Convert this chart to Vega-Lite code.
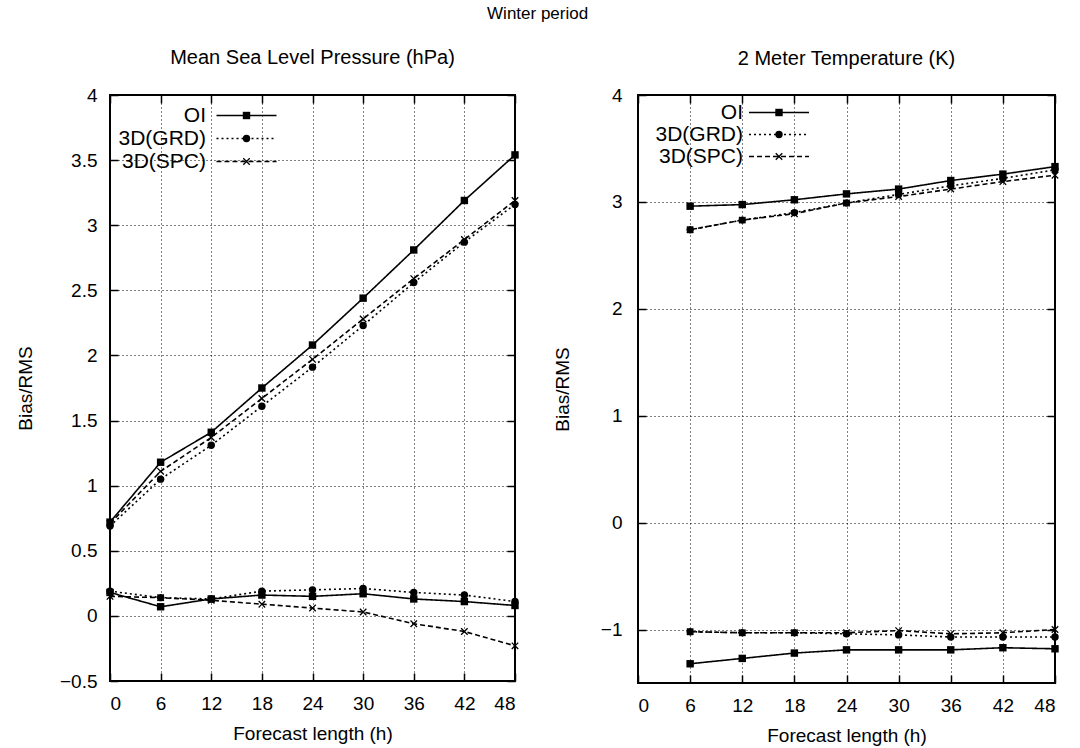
{
  "$schema": "https://vega.github.io/schema/vega-lite/v6.json",
  "background": "white",
  "padding": {"left": 15, "top": 5, "right": 5, "bottom": 5},
  "title": {"text": "Winter period", "fontSize": 17, "font": "Liberation Sans", "fontWeight": "normal", "color": "black", "anchor": "middle", "offset": 24},
  "datasets": {
    "msl": [
      {"series": "OI", "curve": "RMS", "h": 0, "v": 0.72},
      {"series": "OI", "curve": "RMS", "h": 6, "v": 1.18},
      {"series": "OI", "curve": "RMS", "h": 12, "v": 1.41},
      {"series": "OI", "curve": "RMS", "h": 18, "v": 1.75},
      {"series": "OI", "curve": "RMS", "h": 24, "v": 2.08},
      {"series": "OI", "curve": "RMS", "h": 30, "v": 2.44},
      {"series": "OI", "curve": "RMS", "h": 36, "v": 2.81},
      {"series": "OI", "curve": "RMS", "h": 42, "v": 3.19},
      {"series": "OI", "curve": "RMS", "h": 48, "v": 3.54},
      {"series": "3D(GRD)", "curve": "RMS", "h": 0, "v": 0.69},
      {"series": "3D(GRD)", "curve": "RMS", "h": 6, "v": 1.05},
      {"series": "3D(GRD)", "curve": "RMS", "h": 12, "v": 1.31},
      {"series": "3D(GRD)", "curve": "RMS", "h": 18, "v": 1.61},
      {"series": "3D(GRD)", "curve": "RMS", "h": 24, "v": 1.91},
      {"series": "3D(GRD)", "curve": "RMS", "h": 30, "v": 2.23},
      {"series": "3D(GRD)", "curve": "RMS", "h": 36, "v": 2.56},
      {"series": "3D(GRD)", "curve": "RMS", "h": 42, "v": 2.87},
      {"series": "3D(GRD)", "curve": "RMS", "h": 48, "v": 3.16},
      {"series": "3D(SPC)", "curve": "RMS", "h": 0, "v": 0.71},
      {"series": "3D(SPC)", "curve": "RMS", "h": 6, "v": 1.11},
      {"series": "3D(SPC)", "curve": "RMS", "h": 12, "v": 1.37},
      {"series": "3D(SPC)", "curve": "RMS", "h": 18, "v": 1.67},
      {"series": "3D(SPC)", "curve": "RMS", "h": 24, "v": 1.97},
      {"series": "3D(SPC)", "curve": "RMS", "h": 30, "v": 2.28},
      {"series": "3D(SPC)", "curve": "RMS", "h": 36, "v": 2.59},
      {"series": "3D(SPC)", "curve": "RMS", "h": 42, "v": 2.89},
      {"series": "3D(SPC)", "curve": "RMS", "h": 48, "v": 3.19},
      {"series": "OI", "curve": "Bias", "h": 0, "v": 0.18},
      {"series": "OI", "curve": "Bias", "h": 6, "v": 0.07},
      {"series": "OI", "curve": "Bias", "h": 12, "v": 0.13},
      {"series": "OI", "curve": "Bias", "h": 18, "v": 0.16},
      {"series": "OI", "curve": "Bias", "h": 24, "v": 0.15},
      {"series": "OI", "curve": "Bias", "h": 30, "v": 0.17},
      {"series": "OI", "curve": "Bias", "h": 36, "v": 0.13},
      {"series": "OI", "curve": "Bias", "h": 42, "v": 0.11},
      {"series": "OI", "curve": "Bias", "h": 48, "v": 0.08},
      {"series": "3D(GRD)", "curve": "Bias", "h": 0, "v": 0.19},
      {"series": "3D(GRD)", "curve": "Bias", "h": 6, "v": 0.14},
      {"series": "3D(GRD)", "curve": "Bias", "h": 12, "v": 0.13},
      {"series": "3D(GRD)", "curve": "Bias", "h": 18, "v": 0.19},
      {"series": "3D(GRD)", "curve": "Bias", "h": 24, "v": 0.2},
      {"series": "3D(GRD)", "curve": "Bias", "h": 30, "v": 0.21},
      {"series": "3D(GRD)", "curve": "Bias", "h": 36, "v": 0.18},
      {"series": "3D(GRD)", "curve": "Bias", "h": 42, "v": 0.16},
      {"series": "3D(GRD)", "curve": "Bias", "h": 48, "v": 0.11},
      {"series": "3D(SPC)", "curve": "Bias", "h": 0, "v": 0.15},
      {"series": "3D(SPC)", "curve": "Bias", "h": 6, "v": 0.14},
      {"series": "3D(SPC)", "curve": "Bias", "h": 12, "v": 0.12},
      {"series": "3D(SPC)", "curve": "Bias", "h": 18, "v": 0.09},
      {"series": "3D(SPC)", "curve": "Bias", "h": 24, "v": 0.06},
      {"series": "3D(SPC)", "curve": "Bias", "h": 30, "v": 0.03},
      {"series": "3D(SPC)", "curve": "Bias", "h": 36, "v": -0.06},
      {"series": "3D(SPC)", "curve": "Bias", "h": 42, "v": -0.12},
      {"series": "3D(SPC)", "curve": "Bias", "h": 48, "v": -0.23}
    ],
    "t2m": [
      {"series": "OI", "curve": "RMS", "h": 6, "v": 2.96},
      {"series": "OI", "curve": "RMS", "h": 12, "v": 2.975},
      {"series": "OI", "curve": "RMS", "h": 18, "v": 3.02},
      {"series": "OI", "curve": "RMS", "h": 24, "v": 3.075},
      {"series": "OI", "curve": "RMS", "h": 30, "v": 3.12},
      {"series": "OI", "curve": "RMS", "h": 36, "v": 3.2},
      {"series": "OI", "curve": "RMS", "h": 42, "v": 3.26},
      {"series": "OI", "curve": "RMS", "h": 48, "v": 3.33},
      {"series": "3D(GRD)", "curve": "RMS", "h": 6, "v": 2.74},
      {"series": "3D(GRD)", "curve": "RMS", "h": 12, "v": 2.83},
      {"series": "3D(GRD)", "curve": "RMS", "h": 18, "v": 2.9},
      {"series": "3D(GRD)", "curve": "RMS", "h": 24, "v": 2.99},
      {"series": "3D(GRD)", "curve": "RMS", "h": 30, "v": 3.07},
      {"series": "3D(GRD)", "curve": "RMS", "h": 36, "v": 3.15},
      {"series": "3D(GRD)", "curve": "RMS", "h": 42, "v": 3.22},
      {"series": "3D(GRD)", "curve": "RMS", "h": 48, "v": 3.3},
      {"series": "3D(SPC)", "curve": "RMS", "h": 6, "v": 2.74},
      {"series": "3D(SPC)", "curve": "RMS", "h": 12, "v": 2.83},
      {"series": "3D(SPC)", "curve": "RMS", "h": 18, "v": 2.89},
      {"series": "3D(SPC)", "curve": "RMS", "h": 24, "v": 2.99},
      {"series": "3D(SPC)", "curve": "RMS", "h": 30, "v": 3.05},
      {"series": "3D(SPC)", "curve": "RMS", "h": 36, "v": 3.12},
      {"series": "3D(SPC)", "curve": "RMS", "h": 42, "v": 3.19},
      {"series": "3D(SPC)", "curve": "RMS", "h": 48, "v": 3.25},
      {"series": "OI", "curve": "Bias", "h": 6, "v": -1.32},
      {"series": "OI", "curve": "Bias", "h": 12, "v": -1.27},
      {"series": "OI", "curve": "Bias", "h": 18, "v": -1.22},
      {"series": "OI", "curve": "Bias", "h": 24, "v": -1.19},
      {"series": "OI", "curve": "Bias", "h": 30, "v": -1.19},
      {"series": "OI", "curve": "Bias", "h": 36, "v": -1.19},
      {"series": "OI", "curve": "Bias", "h": 42, "v": -1.17},
      {"series": "OI", "curve": "Bias", "h": 48, "v": -1.18},
      {"series": "3D(GRD)", "curve": "Bias", "h": 6, "v": -1.02},
      {"series": "3D(GRD)", "curve": "Bias", "h": 12, "v": -1.03},
      {"series": "3D(GRD)", "curve": "Bias", "h": 18, "v": -1.03},
      {"series": "3D(GRD)", "curve": "Bias", "h": 24, "v": -1.04},
      {"series": "3D(GRD)", "curve": "Bias", "h": 30, "v": -1.05},
      {"series": "3D(GRD)", "curve": "Bias", "h": 36, "v": -1.07},
      {"series": "3D(GRD)", "curve": "Bias", "h": 42, "v": -1.07},
      {"series": "3D(GRD)", "curve": "Bias", "h": 48, "v": -1.07},
      {"series": "3D(SPC)", "curve": "Bias", "h": 6, "v": -1.02},
      {"series": "3D(SPC)", "curve": "Bias", "h": 12, "v": -1.03},
      {"series": "3D(SPC)", "curve": "Bias", "h": 18, "v": -1.03},
      {"series": "3D(SPC)", "curve": "Bias", "h": 24, "v": -1.03},
      {"series": "3D(SPC)", "curve": "Bias", "h": 30, "v": -1.01},
      {"series": "3D(SPC)", "curve": "Bias", "h": 36, "v": -1.04},
      {"series": "3D(SPC)", "curve": "Bias", "h": 42, "v": -1.03},
      {"series": "3D(SPC)", "curve": "Bias", "h": 48, "v": -1.0}
    ]
  },
  "resolve": {"scale": {"strokeDash": "independent", "shape": "independent"}, "legend": {"strokeDash": "independent", "shape": "independent"}},
  "spacing": 32,
  "hconcat": [
    {
      "width": 405,
      "height": 586,
      "title": {"text": "Mean Sea Level Pressure (hPa)", "fontSize": 20, "font": "Liberation Sans", "fontWeight": "normal", "color": "black", "anchor": "middle", "offset": 18},
      "data": {"name": "msl"},
      "resolve": {"axis": {"x": "independent", "y": "independent"}},
      "layer": [
        {
          "mark": {"type": "line", "color": "black", "strokeWidth": 1.6},
          "encoding": {
            "x": {"field": "h", "type": "quantitative", "scale": {"domain": [0, 48], "nice": false, "zero": false},
                  "axis": {"values": [0, 6, 12, 18, 24, 30, 36, 42, 48], "title": "Forecast length (h)"}},
            "y": {"field": "v", "type": "quantitative", "scale": {"domain": [-0.5, 4], "nice": false, "zero": false},
                  "axis": {"values": [-0.5, 0, 0.5, 1, 1.5, 2, 2.5, 3, 3.5, 4], "format": "~g", "title": "Bias/RMS", "labelPadding": 21, "titlePadding": 24}},
            "strokeDash": {"field": "series", "type": "nominal", "sort": ["OI", "3D(GRD)", "3D(SPC)"],
                           "scale": {"range": [[1, 0], [2, 3], [5, 3]]},
                           "legend": {"orient": "none", "legendX": 126, "legendY": 10, "title": null, "symbolType": "M-20,0L20,0", "symbolSize": 9, "symbolStrokeWidth": 1.6, "symbolStrokeColor": "black", "labelAlign": "right", "labelOffset": -51, "labelFontSize": 21, "labelFont": "Liberation Sans", "labelColor": "black", "padding": 0, "rowPadding": 1}},
            "detail": {"field": "curve"}
          }
        },
        {
          "mark": {"type": "point", "filled": true, "color": "black", "size": 55, "opacity": 1},
          "encoding": {
            "x": {"field": "h", "type": "quantitative", "axis": {"orient": "top", "values": [0, 6, 12, 18, 24, 30, 36, 42, 48], "labels": false, "grid": false, "title": null}},
            "y": {"field": "v", "type": "quantitative", "axis": {"orient": "right", "values": [-0.5, 0, 0.5, 1, 1.5, 2, 2.5, 3, 3.5, 4], "labels": false, "grid": false, "title": null}},
            "shape": {"field": "series", "type": "nominal",
                      "scale": {"domain": ["OI", "3D(GRD)", "3D(SPC)"], "range": ["square", "circle", "M-1,-0.75L-0.75,-1L0,-0.25L0.75,-1L1,-0.75L0.25,0L1,0.75L0.75,1L0,0.25L-0.75,1L-1,0.75L-0.25,0Z"]},
                      "legend": {"orient": "none", "legendX": 126, "legendY": 10, "title": null, "symbolSize": 55, "symbolFillColor": "black", "labelOpacity": 0, "labelFontSize": 21, "padding": 0, "rowPadding": 1}}
          }
        }
      ]
    },
    {
      "width": 417,
      "height": 588,
      "title": {"text": "2 Meter Temperature (K)", "fontSize": 20, "font": "Liberation Sans", "fontWeight": "normal", "color": "black", "anchor": "middle", "offset": 17},
      "data": {"name": "t2m"},
      "resolve": {"axis": {"x": "independent", "y": "independent"}},
      "layer": [
        {
          "mark": {"type": "line", "color": "black", "strokeWidth": 1.6},
          "encoding": {
            "x": {"field": "h", "type": "quantitative", "scale": {"domain": [0, 48], "nice": false, "zero": false},
                  "axis": {"values": [0, 6, 12, 18, 24, 30, 36, 42, 48], "title": "Forecast length (h)"}},
            "y": {"field": "v", "type": "quantitative", "scale": {"domain": [-1.5, 4], "nice": false, "zero": false},
                  "axis": {"values": [-1, 0, 1, 2, 3, 4], "format": "~g", "title": "Bias/RMS", "labelPadding": 24, "titlePadding": 28}},
            "strokeDash": {"field": "series", "type": "nominal", "sort": ["OI", "3D(GRD)", "3D(SPC)"],
                           "scale": {"range": [[1, 0], [2, 3], [5, 3]]},
                           "legend": {"orient": "none", "legendX": 130.5, "legendY": 7, "title": null, "symbolType": "M-20,0L20,0", "symbolSize": 9, "symbolStrokeWidth": 1.6, "symbolStrokeColor": "black", "labelAlign": "right", "labelOffset": -46.5, "labelFontSize": 21, "labelFont": "Liberation Sans", "labelColor": "black", "padding": 0, "rowPadding": 0}},
            "detail": {"field": "curve"}
          }
        },
        {
          "mark": {"type": "point", "filled": true, "color": "black", "size": 55, "opacity": 1},
          "encoding": {
            "x": {"field": "h", "type": "quantitative", "axis": {"orient": "top", "values": [0, 6, 12, 18, 24, 30, 36, 42, 48], "labels": false, "grid": false, "title": null}},
            "y": {"field": "v", "type": "quantitative", "axis": {"orient": "right", "values": [-1, 0, 1, 2, 3, 4], "labels": false, "grid": false, "title": null}},
            "shape": {"field": "series", "type": "nominal",
                      "scale": {"domain": ["OI", "3D(GRD)", "3D(SPC)"], "range": ["square", "circle", "M-1,-0.75L-0.75,-1L0,-0.25L0.75,-1L1,-0.75L0.25,0L1,0.75L0.75,1L0,0.25L-0.75,1L-1,0.75L-0.25,0Z"]},
                      "legend": {"orient": "none", "legendX": 130.5, "legendY": 7, "title": null, "symbolSize": 55, "symbolFillColor": "black", "labelOpacity": 0, "labelFontSize": 21, "padding": 0, "rowPadding": 0}}
          }
        }
      ]
    }
  ],
  "config": {
    "font": "Liberation Sans",
    "view": {"stroke": "black", "strokeWidth": 2},
    "axis": {
      "domain": false,
      "grid": true,
      "gridColor": "black",
      "gridDash": [1, 3],
      "gridWidth": 1,
      "gridOpacity": 1,
      "ticks": true,
      "tickSize": -8,
      "tickColor": "black",
      "tickWidth": 1.5,
      "labelFont": "Liberation Sans",
      "labelFontSize": 19,
      "labelColor": "black",
      "labelPadding": 21,
      "titleFont": "Liberation Sans",
      "titleFontSize": 19,
      "titleFontWeight": "normal",
      "titleColor": "black",
      "titlePadding": 11
    },
    "legend": {"symbolOpacity": 1}
  }
}
